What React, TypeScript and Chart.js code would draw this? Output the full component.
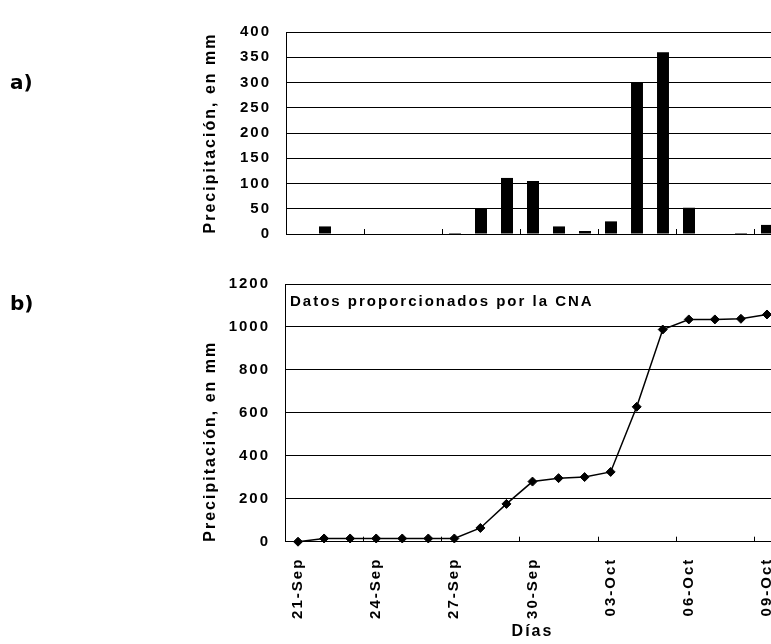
import React, { useEffect, useRef } from 'react';
import { Chart, registerables } from 'chart.js';

Chart.register(...registerables);

// ---- data ----
const days = [
  '21-Sep', '22-Sep', '23-Sep', '24-Sep', '25-Sep', '26-Sep', '27-Sep', '28-Sep', '29-Sep', '30-Sep',
  '01-Oct', '02-Oct', '03-Oct', '04-Oct', '05-Oct', '06-Oct', '07-Oct', '08-Oct', '09-Oct',
];
const dailyRain = [0, 15, 0, 0, 0, 0, 2, 50, 111, 105, 15, 6, 25, 300, 360, 52, 0, 2, 18];
const cumulativeRain = [0, 15, 15, 15, 15, 15, 15, 64, 176, 280, 296, 301, 325, 628, 988, 1035, 1035, 1038, 1058];
const yTitle = 'Precipitación, en mm';
const xTitle = 'Días';
const noteText = 'Datos proporcionados por la CNA';
const panelLabels = ['a)', 'b)'];
const labelEvery = 3;
const topTicks = { min: 0, max: 400, step: 50 };
const bottomTicks = { min: 0, max: 1200, step: 200 };

const FONT = "'Liberation Sans', Arial, sans-serif";
const SPACING = '2px';

const spacingPlugin = {
  id: 'spacing',
  beforeUpdate(c: any) { c.ctx.letterSpacing = SPACING; },
  beforeLayout(c: any) { c.ctx.letterSpacing = SPACING; },
  beforeDraw(c: any) { c.ctx.letterSpacing = SPACING; },
};

const innerTicksPlugin = {
  id: 'innerTicks',
  afterDraw(c: any) {
    const x = c.scales.x;
    const { bottom } = c.chartArea;
    const ctx = c.ctx;
    ctx.save();
    ctx.strokeStyle = '#000';
    ctx.lineWidth = 1;
    for (let k = 0; k < days.length - 1; k++) {
      if (k % labelEvery !== labelEvery - 1) continue;
      const px = Math.round((x.getPixelForValue(k) + x.getPixelForValue(k + 1)) / 2) + 0.5;
      ctx.beginPath();
      ctx.moveTo(px, bottom - 5);
      ctx.lineTo(px, bottom);
      ctx.stroke();
    }
    ctx.restore();
  },
};

const notePlugin = {
  id: 'note',
  afterDraw(c: any) {
    const ctx = c.ctx;
    const { left, top } = c.chartArea;
    ctx.save();
    ctx.letterSpacing = SPACING;
    ctx.font = `bold 15px ${FONT}`;
    ctx.fillStyle = '#000';
    ctx.textAlign = 'left';
    ctx.textBaseline = 'alphabetic';
    ctx.fillText(noteText, left + 5, top + 22);
    ctx.restore();
  },
};

const tickFont = { family: FONT, size: 15, weight: 'bold' as const };
const titleFont = { family: FONT, size: 16, weight: 'bold' as const };
const plain = (v: any) => String(v);

function TopChart() {
  const ref = useRef<HTMLCanvasElement>(null);
  useEffect(() => {
    const chart = new Chart(ref.current!, {
      type: 'bar',
      data: {
        labels: days,
        datasets: [{
          data: dailyRain,
          backgroundColor: '#000',
          borderWidth: 0,
          categoryPercentage: 1,
          barPercentage: 0.46,
        }],
      },
      options: {
        animation: false,
        responsive: false,
        layout: { padding: { left: 192.5, top: 10.3, right: 8, bottom: 0 } },
        plugins: { legend: { display: false }, tooltip: { enabled: false } },
        scales: {
          x: {
            offset: true,
            grid: { display: false },
            border: { display: true, color: '#000', width: 1 },
            ticks: { display: false },
            afterFit: (s: any) => { s.height = 8.7; s.paddingLeft = 0; s.paddingRight = 0; },
          },
          y: {
            min: topTicks.min,
            max: topTicks.max,
            ticks: { stepSize: topTicks.step, color: '#000', font: tickFont, padding: 15, callback: plain },
            grid: { color: '#000', lineWidth: 1, drawTicks: false },
            border: { display: true, color: '#000', width: 1 },
            title: { display: true, text: yTitle, color: '#000', font: titleFont, padding: { top: 0, bottom: 0 } },
            afterFit: (s: any) => { s.width = 85.5; },
          },
        },
      },
      plugins: [spacingPlugin, innerTicksPlugin],
    });
    return () => chart.destroy();
  }, []);
  return <canvas ref={ref} width={780} height={250} style={{ position: 'absolute', left: 0, top: 0, display: 'block' }} />;
}

function BottomChart() {
  const ref = useRef<HTMLCanvasElement>(null);
  useEffect(() => {
    const chart = new Chart(ref.current!, {
      type: 'line',
      data: {
        labels: days,
        datasets: [{
          data: cumulativeRain,
          borderColor: '#000',
          borderWidth: 1.5,
          pointStyle: 'rectRot',
          pointRadius: 4.5,
          pointBackgroundColor: '#000',
          pointBorderColor: '#000',
          pointBorderWidth: 1,
          tension: 0,
          clip: false as any,
        }],
      },
      options: {
        animation: false,
        responsive: false,
        layout: { padding: { left: 192.5, top: 20, right: 8, bottom: 3 } },
        plugins: { legend: { display: false }, tooltip: { enabled: false } },
        scales: {
          x: {
            offset: true,
            grid: { display: false },
            border: { display: true, color: '#000', width: 1 },
            ticks: {
              autoSkip: false,
              minRotation: 90,
              maxRotation: 90,
              padding: 8,
              color: '#000',
              font: tickFont,
              callback: (_v: any, i: number) => (i % labelEvery === 0 ? days[i] : ''),
            },
            title: { display: true, text: xTitle, color: '#000', font: titleFont, padding: { top: 0, bottom: 0 } },
            afterFit: (s: any) => { s.height = 99.3; s.paddingLeft = 0; s.paddingRight = 0; },
          },
          y: {
            min: bottomTicks.min,
            max: bottomTicks.max,
            ticks: { stepSize: bottomTicks.step, color: '#000', font: tickFont, padding: 15, callback: plain },
            grid: { color: '#000', lineWidth: 1, drawTicks: false },
            border: { display: true, color: '#000', width: 1 },
            title: { display: true, text: yTitle, align: 'start', color: '#000', font: titleFont, padding: { top: 0, bottom: 0 } },
            afterFit: (s: any) => { s.width = 84.5; },
          },
        },
      },
      plugins: [spacingPlugin, innerTicksPlugin, notePlugin],
    });
    return () => chart.destroy();
  }, []);
  return <canvas ref={ref} width={780} height={384} style={{ position: 'absolute', left: 0, top: 252, display: 'block' }} />;
}

const panelStyle: React.CSSProperties = {
  position: 'absolute',
  left: 2,
  fontFamily: "'DejaVu Sans', sans-serif",
  fontWeight: 700,
  fontSize: 20,
  lineHeight: '24px',
  color: '#000',
};

export default function App() {
  return (
    <div style={{ position: 'fixed', left: 8, top: 8, width: 763, height: 636, overflow: 'hidden', background: '#fff' }}>
      <TopChart />
      <BottomChart />
      <div style={{ ...panelStyle, top: 62 }}>{panelLabels[0]}</div>
      <div style={{ ...panelStyle, top: 283 }}>{panelLabels[1]}</div>
    </div>
  );
}
